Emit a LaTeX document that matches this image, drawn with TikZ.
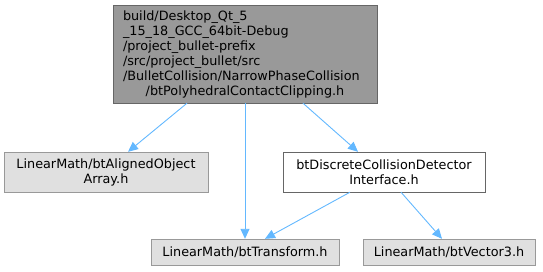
\documentclass[tikz,border=0pt]{standalone}
\usepackage{xcolor}
\usepackage{fontspec}
\setmainfont{DejaVu Sans}
\usepackage{tikz}
\usetikzlibrary{arrows.meta}

\definecolor{edgeblue}{HTML}{63B8FF}
\definecolor{nodegray}{HTML}{E0E0E0}
\definecolor{rootgray}{HTML}{999999}
\definecolor{framegray}{HTML}{666666}
\hyphenpenalty=10000
\exhyphenpenalty=10000

\begin{document}
\begin{tikzpicture}[x=1pt, y=1pt,
    every node/.style={font=\fontsize{12.8}{15}\selectfont, inner sep=0pt},
    rootbox/.style={draw=framegray, fill=rootgray, rectangle, minimum width=264pt, minimum height=98pt},
    filebox/.style={draw=rootgray, fill=nodegray, rectangle, align=center},
    linkbox/.style={draw=framegray, fill=white, rectangle, align=center},
    edge/.style={draw=edgeblue, line width=0.9pt, -{Triangle[length=10pt, width=9pt]}}]
    \useasboundingbox (0,0) rectangle (543,-271);

    % Root file
    \node[rootbox, text width=244pt, align=left] (top) at (245,-54)
        {build/Desktop\_Qt\_5\\
         \_15\_18\_GCC\_64bit-Debug\\
         /project\_bullet-prefix\\
         /src/project\_bullet/src\\
         /BulletCollision/NarrowPhaseCollision\\
         \makebox[244pt]{/btPolyhedralContactClipping.h}};

    % Included headers
    \node[filebox, minimum width=204pt, minimum height=40pt] (aligned) at (106,-172)
        {LinearMath/btAlignedObject\\Array.h};
    \node[linkbox, minimum width=202pt, minimum height=40pt] (discrete) at (384,-172)
        {btDiscreteCollisionDetector\\Interface.h};
    \node[filebox, minimum width=188pt, minimum height=26pt] (transform) at (245,-252)
        {LinearMath/btTransform.h};
    \node[filebox, minimum width=172pt, minimum height=26pt] (vector) at (449,-252)
        {LinearMath/btVector3.h};

    % Edges
    \draw[edge] ([xshift=-58pt]top.south) -- ([xshift=22pt]aligned.north);
    \draw[edge] (top.south) -- (transform.north);
    \draw[edge] ([xshift=58pt]top.south) -- ([xshift=-26pt]discrete.north);
    \draw[edge] ([xshift=-34pt]discrete.south) -- ([xshift=20pt]transform.north);
    \draw[edge] ([xshift=17pt]discrete.south) -- ([xshift=-7pt]vector.north);
\end{tikzpicture}
\end{document}
